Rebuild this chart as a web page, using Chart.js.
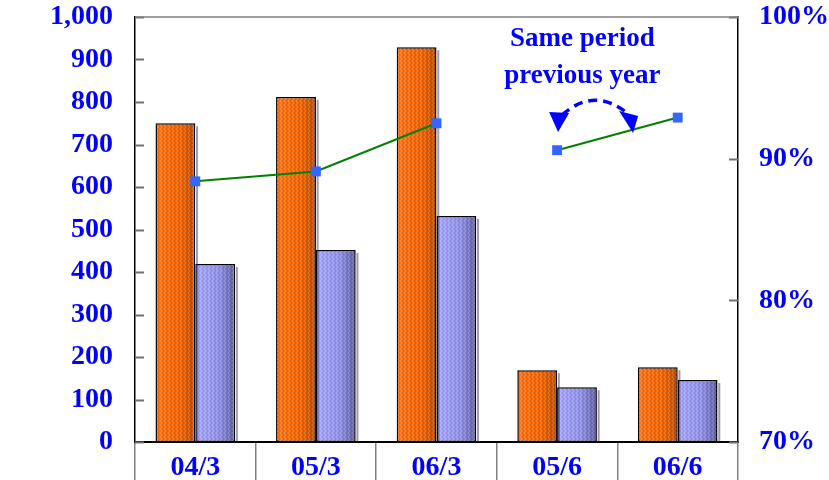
<!DOCTYPE html>
<html>
<head>
<meta charset="utf-8">
<script src="https://cdn.jsdelivr.net/npm/chart.js@4/dist/chart.umd.min.js"></script>
<style>
html,body{margin:0;padding:0;background:#fff;}
#wrap{width:829px;height:480px;position:relative;}
</style>
</head>
<body>
<div id="wrap"><canvas id="c" width="829" height="480"></canvas></div>
<script>
const categories = ['04/3', '05/3', '06/3', '05/6', '06/6'];
const orangeValues = [750, 812, 929, 169, 176];
const blueValues = [419, 452, 532, 129, 146];
const ratioFirst = [88.4, 89.1, 92.5, null, null];
const ratioSecond = [null, null, null, 90.6, 92.9];
const leftTicks = [0, 100, 200, 300, 400, 500, 600, 700, 800, 900, 1000];
const rightTicks = [70, 80, 90, 100];
const noteLines = ['Same period', 'previous year'];

const BLUE_TEXT = '#0000FF';
const FONT = {family: '"Liberation Serif", "Times New Roman", serif', size: 28, weight: 'bold'};
const CAT_PCT = 0.66;

function barGradient(context, dsIdx, stops) {
  const chart = context.chart;
  if (!chart.chartArea || !chart.scales.x) return stops[0];
  const xs = chart.scales.x;
  const cw = (xs.right - xs.left) / categories.length;
  const center = xs.getPixelForValue(context.dataIndex);
  const bw = cw * CAT_PCT / 2;
  const x0 = dsIdx === 0 ? center - bw : center;
  const g = chart.ctx.createLinearGradient(x0, 0, x0 + bw, 0);
  g.addColorStop(0, stops[0]);
  g.addColorStop(0.6, stops[1]);
  g.addColorStop(1, stops[2]);
  return g;
}

let hatch = null;
function getHatch(ctx) {
  if (hatch) return hatch;
  const p = document.createElement('canvas');
  p.width = 4; p.height = 4;
  const pc = p.getContext('2d');
  pc.fillStyle = 'rgba(255,255,255,0.18)';
  pc.fillRect(0, 0, 1, 2);
  pc.fillRect(1, 2, 1, 2);
  pc.fillStyle = 'rgba(0,0,0,0.08)';
  pc.fillRect(2, 0, 1, 2);
  pc.fillRect(3, 2, 1, 2);
  hatch = ctx.createPattern(p, 'repeat');
  return hatch;
}

const barTexture = {
  id: 'barTexture',
  afterDatasetDraw(chart, args) {
    const meta = args.meta;
    if (meta.type !== 'bar') return;
    const ctx = chart.ctx;
    ctx.save();
    meta.data.forEach(el => {
      const {x, y, base, width} = el.getProps(['x', 'y', 'base', 'width'], true);
      const left = x - width / 2;
      ctx.fillStyle = 'rgba(50,30,70,0.45)';
      ctx.fillRect(left + width + 0.75, y + 3, 2, base - y - 3);
      ctx.fillStyle = getHatch(ctx);
      ctx.fillRect(left + 1, y + 1, width - 2, base - y - 2);
    });
    ctx.restore();
  }
};

const innerTicks = {
  id: 'innerTicks',
  afterDraw(chart) {
    const {ctx, chartArea: a, scales} = chart;
    ctx.save();
    ctx.strokeStyle = '#707070';
    ctx.lineWidth = 2;
    leftTicks.forEach(v => {
      const y = Math.round(scales.y.getPixelForValue(v)) + 0.5;
      ctx.beginPath(); ctx.moveTo(a.left, y); ctx.lineTo(a.left + 9, y); ctx.stroke();
    });
    rightTicks.forEach(v => {
      const y = Math.round(scales.y1.getPixelForValue(v)) + 0.5;
      ctx.beginPath(); ctx.moveTo(a.right - 9, y); ctx.lineTo(a.right, y); ctx.stroke();
    });
    ctx.strokeStyle = '#808080';
    ctx.lineWidth = 1.5;
    ctx.beginPath(); ctx.moveTo(a.left, a.top); ctx.lineTo(a.right, a.top); ctx.stroke();
    ctx.restore();
  }
};

const note = {
  id: 'note',
  afterDraw(chart) {
    const {ctx, scales} = chart;
    const xs = scales.x;
    const cx = (xs.getPixelForValue(3) + xs.getPixelForValue(4)) / 2 - 35;
    ctx.save();
    ctx.fillStyle = BLUE_TEXT;
    ctx.font = 'bold 27px "Liberation Serif", serif';
    ctx.textAlign = 'center';
    ctx.textBaseline = 'middle';
    ctx.fillText(noteLines[0], cx, 39);
    ctx.fillText(noteLines[1], cx, 76);
    const lx = xs.getPixelForValue(3);
    const rx = lx + 75;
    ctx.strokeStyle = BLUE_TEXT;
    ctx.lineWidth = 3.5;
    ctx.setLineDash([9, 6]);
    ctx.beginPath();
    ctx.moveTo(lx + 5, 115);
    ctx.quadraticCurveTo((lx + rx) / 2, 86, rx - 4, 114);
    ctx.stroke();
    ctx.setLineDash([]);
    ctx.beginPath();
    ctx.moveTo(lx - 8, 112); ctx.lineTo(lx + 12, 113); ctx.lineTo(lx + 1, 132); ctx.closePath();
    ctx.fill();
    ctx.beginPath();
    ctx.moveTo(rx - 13, 111); ctx.lineTo(rx + 6, 116); ctx.lineTo(rx + 1, 133); ctx.closePath();
    ctx.fill();
    ctx.restore();
  }
};

const lineStyle = {
  type: 'line', yAxisID: 'y1', order: 0,
  borderColor: '#008000', borderWidth: 2, spanGaps: false,
  pointStyle: 'rect', pointRadius: 7, pointBackgroundColor: '#3366FF', pointBorderColor: '#3366FF', pointBorderWidth: 0
};

new Chart(document.getElementById('c'), {
  data: {
    labels: categories,
    datasets: [
      Object.assign({data: ratioFirst}, lineStyle),
      Object.assign({data: ratioSecond}, lineStyle),
      {
        type: 'bar', data: orangeValues, yAxisID: 'y', order: 1,
        backgroundColor: c => barGradient(c, 0, ['#FF7418', '#F56400', '#B84E08']),
        borderColor: '#000', borderWidth: 1.5, borderSkipped: false,
        categoryPercentage: CAT_PCT, barPercentage: 1
      },
      {
        type: 'bar', data: blueValues, yAxisID: 'y', order: 1,
        backgroundColor: c => barGradient(c, 1, ['#A8A8FF', '#9090E8', '#5E5EA0']),
        borderColor: '#000', borderWidth: 1.5, borderSkipped: false,
        categoryPercentage: CAT_PCT, barPercentage: 1
      }
    ]
  },
  options: {
    responsive: false,
    animation: false,
    layout: {padding: {top: 0, left: 0, right: 0, bottom: 0}},
    plugins: {legend: {display: false}, tooltip: {enabled: false}},
    scales: {
      x: {
        offset: true,
        grid: {offset: true, drawOnChartArea: false, drawTicks: true, tickLength: 40, color: '#808080', lineWidth: 1.5},
        border: {display: true, color: '#000', width: 2},
        ticks: {color: BLUE_TEXT, font: FONT, padding: -31, maxRotation: 0, autoSkip: false},
        afterFit(s) { s.height = 38; s.paddingLeft = 0; s.paddingRight = 0; }
      },
      y: {
        position: 'left', min: 0, max: 1000,
        afterBuildTicks(s) { s.ticks = leftTicks.map(v => ({value: v})); },
        grid: {display: false, drawTicks: false},
        border: {display: true, color: '#000', width: 1.5},
        ticks: {color: BLUE_TEXT, font: FONT, padding: 22, callback: v => v.toLocaleString('en-US')},
        afterFit(s) { s.width = 135; s.paddingTop = 17; s.paddingBottom = 0; }
      },
      y1: {
        position: 'right', min: 70, max: 100,
        afterBuildTicks(s) { s.ticks = rightTicks.map(v => ({value: v})); },
        grid: {display: false, drawTicks: false},
        border: {display: true, color: '#000', width: 1.5},
        ticks: {color: BLUE_TEXT, font: FONT, padding: 21, callback: v => v + '%'},
        afterFit(s) { s.width = 91; s.paddingTop = 17; s.paddingBottom = 0; }
      }
    }
  },
  plugins: [barTexture, innerTicks, note]
});
</script>
</body>
</html>
